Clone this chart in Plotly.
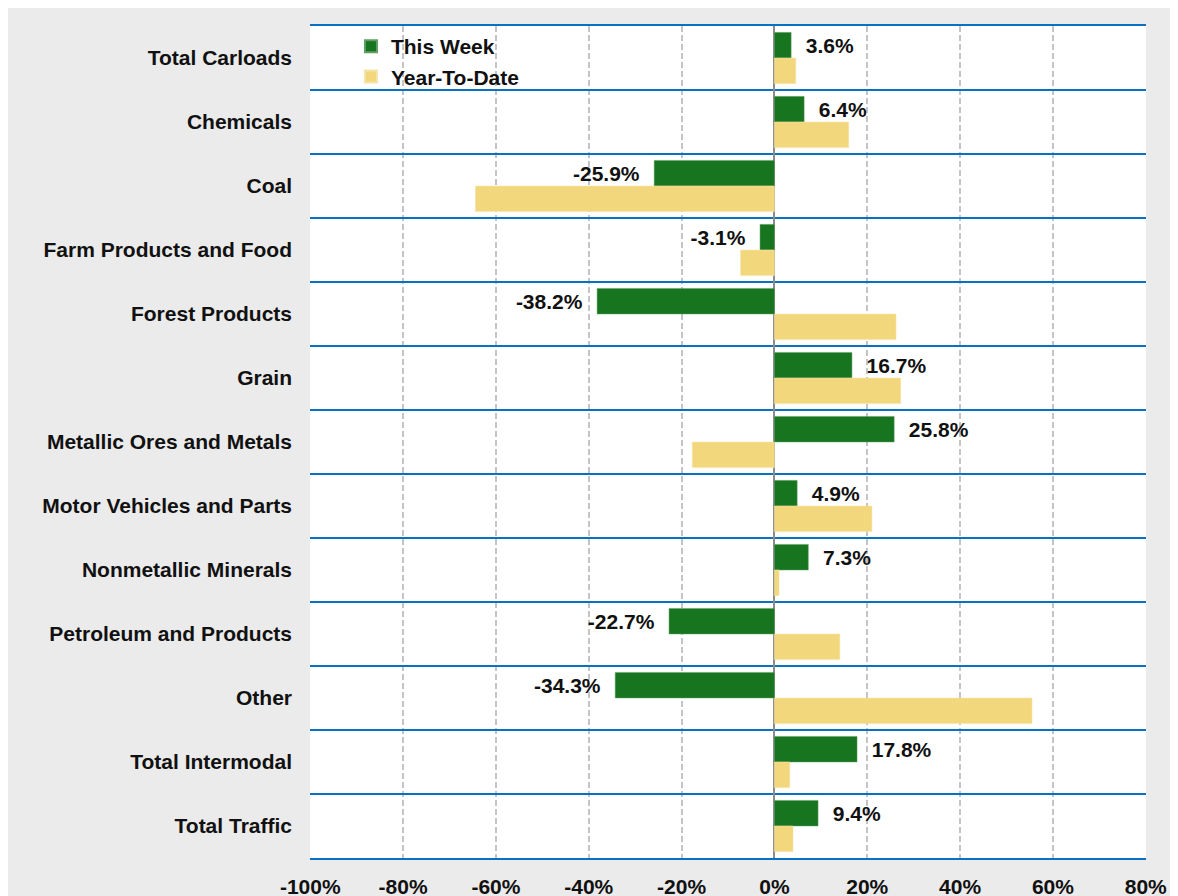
import plotly.graph_objects as go

categories = [
    "Total Carloads", "Chemicals", "Coal", "Farm Products and Food",
    "Forest Products", "Grain", "Metallic Ores and Metals",
    "Motor Vehicles and Parts", "Nonmetallic Minerals",
    "Petroleum and Products", "Other", "Total Intermodal", "Total Traffic",
]
this_week = [3.6, 6.4, -25.9, -3.1, -38.2, 16.7, 25.8, 4.9, 7.3, -22.7, -34.3, 17.8, 9.4]
year_to_date = [4.6, 16.0, -64.4, -7.3, 26.2, 27.2, -17.7, 21.0, 1.0, 14.1, 55.5, 3.3, 4.0]
x_ticks = [-100, -80, -60, -40, -20, 0, 20, 40, 60, 80]
x_tick_labels = [f"{v}%" for v in x_ticks]

FONT = "Liberation Sans, Arial, Helvetica, sans-serif"
GREEN = "#177520"
YELLOW = "#f2d77c"
BLUE = "#0a70c2"
NB = "\u00a0\u00a0"

labels = [(f"{NB}{v:.1f}%" if v >= 0 else f"{v:.1f}%{NB}") for v in this_week]

fig = go.Figure()
fig.add_trace(go.Bar(
    name="This Week", y=categories, x=this_week, orientation="h",
    marker=dict(color=GREEN, line=dict(color="#5e9e62", width=0.5)),
    text=labels, textposition="outside", cliponaxis=False,
    constraintext="none",
    outsidetextfont=dict(family=FONT, size=21, color="#111111", weight="bold"),
    hoverinfo="x+y",
))
fig.add_trace(go.Bar(
    name="Year-To-Date", y=categories, x=year_to_date, orientation="h",
    marker=dict(color=YELLOW, line=dict(color="#f5e4a8", width=0.5)),
    hoverinfo="x+y",
))

fig.update_layout(
    width=1178, height=896,
    margin=dict(l=302, r=40, t=18, b=46),
    paper_bgcolor="#ebebeb", plot_bgcolor="#ffffff",
    barmode="group", bargap=0.2, bargroupgap=0.0,
    font=dict(family=FONT, size=21, color="#111111", weight="bold"),
    showlegend=True,
    legend=dict(x=0.049, y=1.0, xanchor="left", yanchor="top",
                bgcolor="rgba(0,0,0,0)", tracegroupgap=0,
                font=dict(family=FONT, size=21, color="#111111", weight="bold"),
                itemsizing="constant"),
    xaxis=dict(
        range=[-100.05, 80.05], tickvals=x_ticks, ticktext=x_tick_labels,
        showgrid=True, gridcolor="#c4c4c4", gridwidth=1.5, griddash="6px,3px",
        zeroline=True, zerolinecolor="#8c8c8c", zerolinewidth=2,
        ticks="", ticklabelstandoff=9, automargin=False,
        showline=True, linecolor=BLUE, linewidth=2, mirror=True,
        tickfont=dict(family=FONT, size=21, color="#111111", weight="bold"),
        fixedrange=True,
    ),
    yaxis=dict(
        type="category", autorange="reversed", automargin=False,
        tickson="boundaries", showgrid=True, gridcolor=BLUE, gridwidth=2,
        ticks="", ticklabelstandoff=17, showline=False,
        tickfont=dict(family=FONT, size=21, color="#111111", weight="bold"),
        fixedrange=True,
    ),
)

fig.write_html("out.html")
